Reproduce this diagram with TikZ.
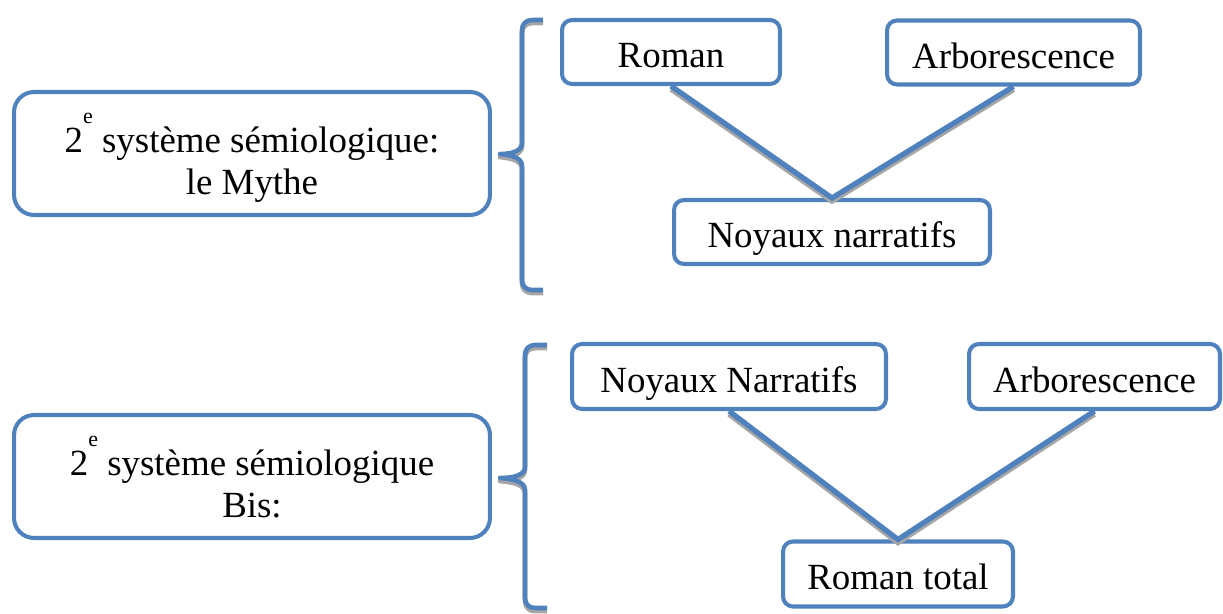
\documentclass[tikz,border=0pt]{standalone}
\usepackage{fontspec}
\setmainfont{Liberation Serif}
\usetikzlibrary{positioning}
\definecolor{boxblue}{HTML}{4F81BD}
\newcommand\supe{\raisebox{0.8em}{\fontsize{12.5}{12.5}\selectfont e}}

\begin{document}
\begin{tikzpicture}[x=0.02cm,y=-0.02cm,
box/.style={draw=boxblue,line width=2.3pt,rounded corners=0.2cm,fill=white,
    minimum height=1.28cm,text height=0.7cm,text depth=0.06cm,
    font=\fontsize{21}{24}\selectfont},
bigbox/.style={box,rounded corners=0.4cm,minimum width=9.52cm,
    minimum height=2.46cm,text height=1.78cm,text depth=0.12cm,align=center},
link/.style={line width=3pt,line join=miter},
bracket/.style={line width=2.6pt,line join=round}]
\useasboundingbox (0,0) rectangle (1223,614);

\foreach \col/\dy in {gray!70/-1.8pt,boxblue/0pt} {
\begin{scope}[draw=\col,transform canvas={yshift=\dy}]
\draw[bracket] (543,20) -- (532,20) .. controls (526,20) and (522,24) .. (522,30)
    -- (522,143) .. controls (522,151) and (512,154) .. (500,154)
    .. controls (512,155) and (522,158) .. (522,166) -- (522,280)
    .. controls (522,286) and (526,290) .. (532,290) -- (543,290);
\draw[bracket] (547,345) -- (535,345) .. controls (529,345) and (525,349) .. (525,355)
    -- (525,467) .. controls (525,475) and (514,478) .. (500,478)
    .. controls (514,479) and (525,482) .. (525,490) -- (525,598)
    .. controls (525,604) and (529,608) .. (535,608) -- (547,608);
\end{scope}
}

\node (mythe) [bigbox] at (252,153.5)
    {2\supe{} système sémiologique:\\le Mythe};
\node (roman) [box,minimum width=4.36cm] at (671,52) {Roman};
\node (arbotop) [box,minimum width=5.06cm] at (1013.5,52.5) {Arborescence};
\node (noyaux) [box,minimum width=6.32cm] at (832,232) {Noyaux narratifs};

\node (bis) [bigbox] at (252,476.5)
    {2\supe{} système sémiologique\\Bis:};
\node (noyauxbis) [box,minimum width=6.28cm,minimum height=1.3cm] at (729,376.5) {Noyaux Narratifs};
\node (arbobis) [box,minimum width=5.02cm,minimum height=1.3cm] at (1094.5,376.5) {Arborescence};
\node (total) [box,minimum width=4.6cm,minimum height=1.3cm] at (898,574) {Roman total};

\foreach \col/\dy in {gray!70/-1.8pt,boxblue/0pt} {
\draw[link,draw=\col,transform canvas={yshift=\dy}]
    (roman.south) -- (noyaux.north) -- (arbotop.south);
\draw[link,draw=\col,transform canvas={yshift=\dy}]
    (noyauxbis.south) -- (total.north) -- (arbobis.south);
}
\end{tikzpicture}
\end{document}
